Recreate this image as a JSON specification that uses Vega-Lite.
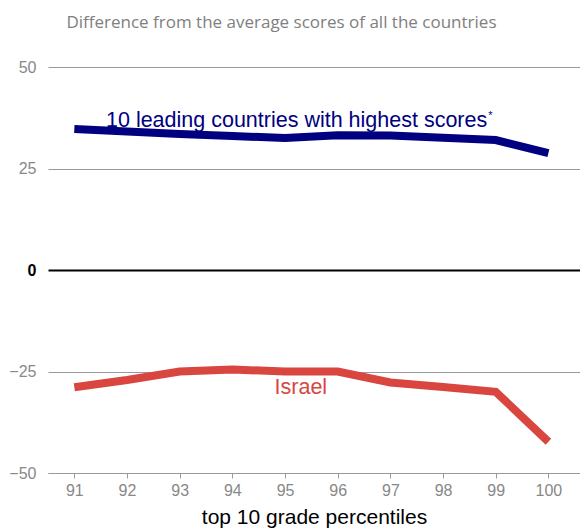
{
  "$schema": "https://vega.github.io/schema/vega-lite/v6.json",
  "width": 532,
  "height": 406,
  "autosize": {"type": "none"},
  "padding": {"left": 48, "top": 67, "right": 0, "bottom": 56},
  "background": "white",
  "title": {
    "text": "Difference from the average scores of all the countries",
    "font": "Open Sans",
    "fontSize": 17,
    "fontWeight": "normal",
    "color": "#808080",
    "anchor": "middle",
    "frame": "bounds",
    "baseline": "alphabetic",
    "offset": 14,
    "dx": -13
  },
  "config": {
    "view": {"stroke": null},
    "axis": {"labelFont": "Liberation Sans", "titleFont": "Liberation Sans"}
  },
  "datasets": {
    "scores": [
      {"percentile": 91, "group": "leading", "diff": 34.7},
      {"percentile": 92, "group": "leading", "diff": 34.1},
      {"percentile": 93, "group": "leading", "diff": 33.5},
      {"percentile": 94, "group": "leading", "diff": 33.0},
      {"percentile": 95, "group": "leading", "diff": 32.5},
      {"percentile": 96, "group": "leading", "diff": 33.2},
      {"percentile": 97, "group": "leading", "diff": 33.1},
      {"percentile": 98, "group": "leading", "diff": 32.6},
      {"percentile": 99, "group": "leading", "diff": 32.0},
      {"percentile": 100, "group": "leading", "diff": 28.8},
      {"percentile": 91, "group": "israel", "diff": -28.9},
      {"percentile": 92, "group": "israel", "diff": -27.1},
      {"percentile": 93, "group": "israel", "diff": -25.0},
      {"percentile": 94, "group": "israel", "diff": -24.5},
      {"percentile": 95, "group": "israel", "diff": -25.0},
      {"percentile": 96, "group": "israel", "diff": -25.0},
      {"percentile": 97, "group": "israel", "diff": -27.7},
      {"percentile": 98, "group": "israel", "diff": -28.8},
      {"percentile": 99, "group": "israel", "diff": -30.0},
      {"percentile": 100, "group": "israel", "diff": -42.3}
    ],
    "labels": [
      {"percentile": 95.22, "diff": 35.3, "group": "leading", "label": "10 leading countries with highest scores"},
      {"percentile": 95.3, "diff": -30.5, "group": "israel", "label": "Israel"}
    ],
    "notes": [
      {"percentile": 98.86, "diff": 37.2, "group": "leading", "label": "*"}
    ]
  },
  "encoding": {
    "x": {
      "field": "percentile",
      "type": "quantitative",
      "scale": {"domain": [90.5, 100.6], "nice": false, "zero": false},
      "axis": {
        "values": [91, 92, 93, 94, 95, 96, 97, 98, 99, 100],
        "grid": false,
        "domainColor": "#999999",
        "domainWidth": 1,
        "tickColor": "#999999",
        "tickSize": 5,
        "labelColor": "#888888",
        "labelFontSize": 16,
        "labelPadding": 4,
        "title": "top 10 grade percentiles",
        "titleColor": "#000000",
        "titleFontSize": 21,
        "titleFontWeight": "normal",
        "titlePadding": 8
      }
    },
    "y": {
      "field": "diff",
      "type": "quantitative",
      "scale": {"domain": [-50, 50], "nice": false},
      "axis": {
        "values": [-50, -25, 0, 25, 50],
        "domain": false,
        "ticks": false,
        "grid": true,
        "gridColor": {"condition": {"test": "datum.value === 0", "value": "#000000"}, "value": "#999999"},
        "gridWidth": {"condition": {"test": "datum.value === 0", "value": 2}, "value": 1},
        "labelColor": {"condition": {"test": "datum.value === 0", "value": "#000000"}, "value": "#888888"},
        "labelFontWeight": {"condition": {"test": "datum.value === 0", "value": "bold"}, "value": "normal"},
        "labelFontSize": 16,
        "labelPadding": 12,
        "title": null
      }
    },
    "color": {
      "field": "group",
      "type": "nominal",
      "scale": {"domain": ["leading", "israel"], "range": ["#000080", "#d8463f"]},
      "legend": null
    }
  },
  "layer": [
    {
      "data": {"name": "scores"},
      "mark": {"type": "line", "strokeWidth": 8, "strokeJoin": "miter", "strokeCap": "butt"}
    },
    {
      "data": {"name": "labels"},
      "mark": {"type": "text", "font": "Liberation Sans", "fontSize": 21.5, "align": "center", "baseline": "alphabetic"},
      "encoding": {"text": {"field": "label"}}
    },
    {
      "data": {"name": "notes"},
      "mark": {"type": "text", "font": "Liberation Sans", "fontSize": 11, "align": "left", "baseline": "alphabetic"},
      "encoding": {"text": {"field": "label"}}
    }
  ]
}
